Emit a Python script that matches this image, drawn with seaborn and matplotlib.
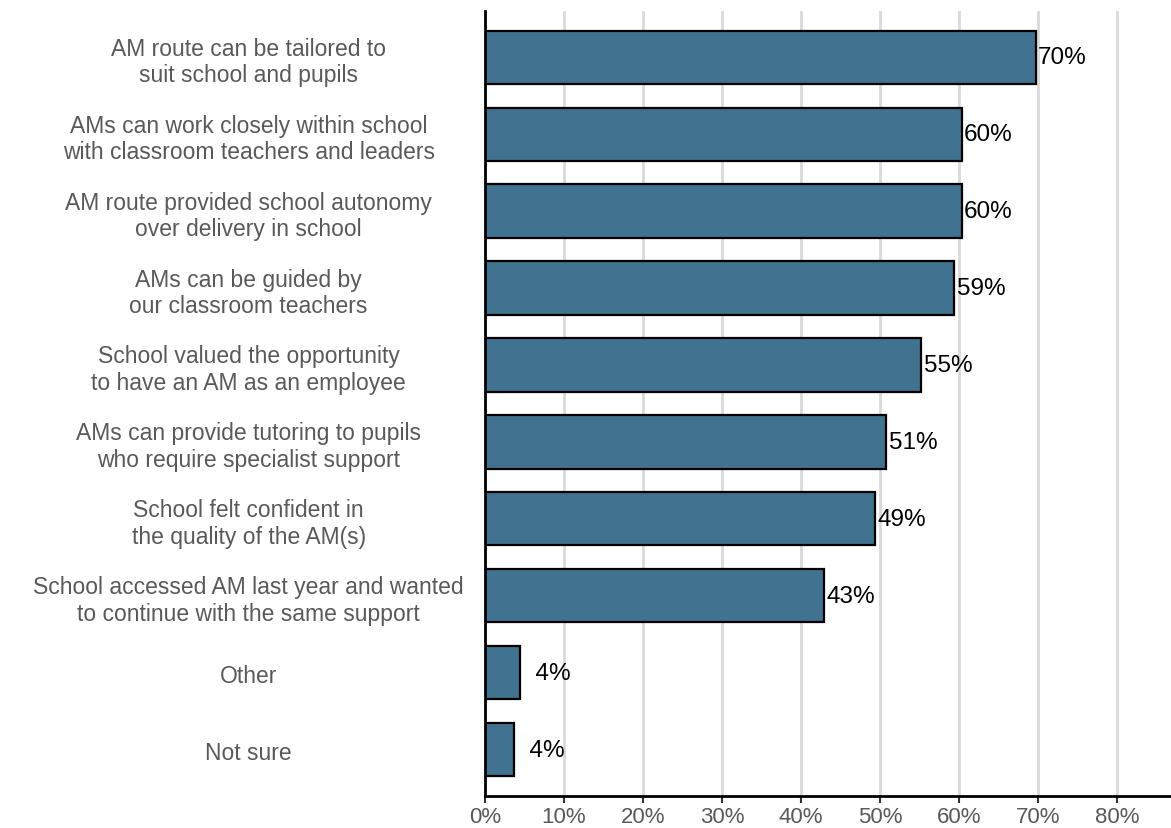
import matplotlib
matplotlib.use("Agg")
import matplotlib.pyplot as plt
import seaborn as sns
import pandas as pd
from matplotlib.ticker import FuncFormatter

# Reasons given by schools for choosing the Academic Mentor route
reasons = [
    "AM route can be tailored to\nsuit school and pupils",
    "AMs can work closely within school\nwith classroom teachers and leaders",
    "AM route provided school autonomy\nover delivery in school",
    "AMs can be guided by\nour classroom teachers",
    "School valued the opportunity\nto have an AM as an employee",
    "AMs can provide tutoring to pupils\nwho require specialist support",
    "School felt confident in\nthe quality of the AM(s)",
    "School accessed AM last year and wanted\nto continue with the same support",
    "Other",
    "Not sure",
]
shares = [69.7, 60.3, 60.3, 59.4, 55.2, 50.8, 49.4, 42.9, 4.4, 3.7]
x_ticks = [0, 10, 20, 30, 40, 50, 60, 70, 80]

df = pd.DataFrame({"reason": reasons, "share": shares})

sns.set_theme(style="white")
plt.rcParams["font.family"] = ["Liberation Sans", "DejaVu Sans"]

fig = plt.figure(figsize=(11.71, 8.29), dpi=100)
ax = fig.add_axes([0.414, 0.0386, 0.586, 0.947])

sns.barplot(data=df, x="share", y="reason", orient="h", color="#41728f",
            saturation=1, edgecolor="black", linewidth=1.6, width=0.69, ax=ax)

for patch, v in zip(ax.patches, shares):
    label = f"{round(v):>2d}%".replace(" ", "  ")
    ax.text(patch.get_width() + 0.3, patch.get_y() + patch.get_height() / 2,
            label, va="center", ha="left", fontsize=17.5, color="black")

ax.set_xlim(0, 86.8)
ax.set_ylim(9.6, -0.6)
ax.set_xticks(x_ticks)
ax.xaxis.set_major_formatter(FuncFormatter(lambda v, _: f"{v:.0f}%"))
ax.set_xlabel("")
ax.set_ylabel("")

ax.grid(axis="x", color="#d9d9d9", linewidth=2)
ax.grid(axis="y", visible=False)
ax.set_axisbelow(True)

for side in ("top", "right"):
    ax.spines[side].set_visible(False)
for side in ("left", "bottom"):
    ax.spines[side].set_color("black")
    ax.spines[side].set_linewidth(2)

ax.tick_params(axis="x", bottom=True, length=5, width=1.5, color="#333333",
               labelsize=16, labelcolor="#595959", pad=2)
ax.tick_params(axis="y", left=False, labelsize=16.5, labelcolor="#595959",
               pad=164)
for lbl in ax.get_yticklabels():
    lbl.set_horizontalalignment("center")
    lbl.set_multialignment("center")

fig.savefig("out.png", dpi=100)
